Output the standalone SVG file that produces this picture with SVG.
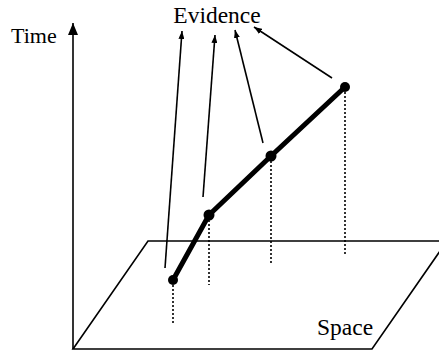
<svg xmlns="http://www.w3.org/2000/svg" width="439" height="353" viewBox="0 0 439 353">
<defs>
<style>
.lbl{font-family:"Liberation Serif","Times New Roman",serif;font-size:23.5px;fill:#000}
.thin{stroke:#000;stroke-width:1.6;fill:none}
.dot{stroke:#000;stroke-width:1.6;stroke-dasharray:2 2;fill:none}
.track{stroke:#000;stroke-width:5;fill:none;stroke-linejoin:round}
</style>
<marker id="ah" markerWidth="8" markerHeight="6" refX="8" refY="3" orient="auto" markerUnits="userSpaceOnUse">
<path d="M0,0 L8,3 L0,6 Z" fill="#000"/>
</marker>
<marker id="axh" markerWidth="12" markerHeight="10" refX="12" refY="5" orient="auto" markerUnits="userSpaceOnUse">
<path d="M0,0 L12,5 L0,10 Z" fill="#000"/>
</marker>
</defs>
<g id="axes">
<line class="thin" x1="73" y1="349" x2="73" y2="23" marker-end="url(#axh)"/>
<text class="lbl" x="11" y="43" style="font-size:22px">Time</text>
</g>
<g id="plane">
<polygon class="thin" points="73,349 148,241 447,241 372,349"/>
<text class="lbl" x="317" y="335">Space</text>
</g>
<g id="evidence">
<text class="lbl" x="217" y="23" text-anchor="middle">Evidence</text>
</g>
<g id="connectors">
<line class="thin" x1="165" y1="268" x2="182" y2="31" marker-end="url(#ah)"/>
<line class="thin" x1="203" y1="197" x2="215" y2="35" marker-end="url(#ah)"/>
<line class="thin" x1="263" y1="143" x2="235" y2="30" marker-end="url(#ah)"/>
<line class="thin" x1="332" y1="78" x2="254" y2="27" marker-end="url(#ah)"/>
<line class="dot" x1="173" y1="285" x2="173" y2="323"/>
<line class="dot" x1="209" y1="220" x2="209" y2="285"/>
<line class="dot" x1="271" y1="161" x2="271" y2="265"/>
<line class="dot" x1="345" y1="92" x2="345" y2="255"/>
<polyline class="track" points="173,280 209,215 271,156 345,87"/>
</g>
<g id="p1"><circle cx="173" cy="280" r="5"/></g>
<g id="p2"><circle cx="209" cy="215" r="5.5"/></g>
<g id="p3"><circle cx="271" cy="156" r="5.5"/></g>
<g id="p4"><circle cx="345" cy="87" r="5"/></g>
</svg>
